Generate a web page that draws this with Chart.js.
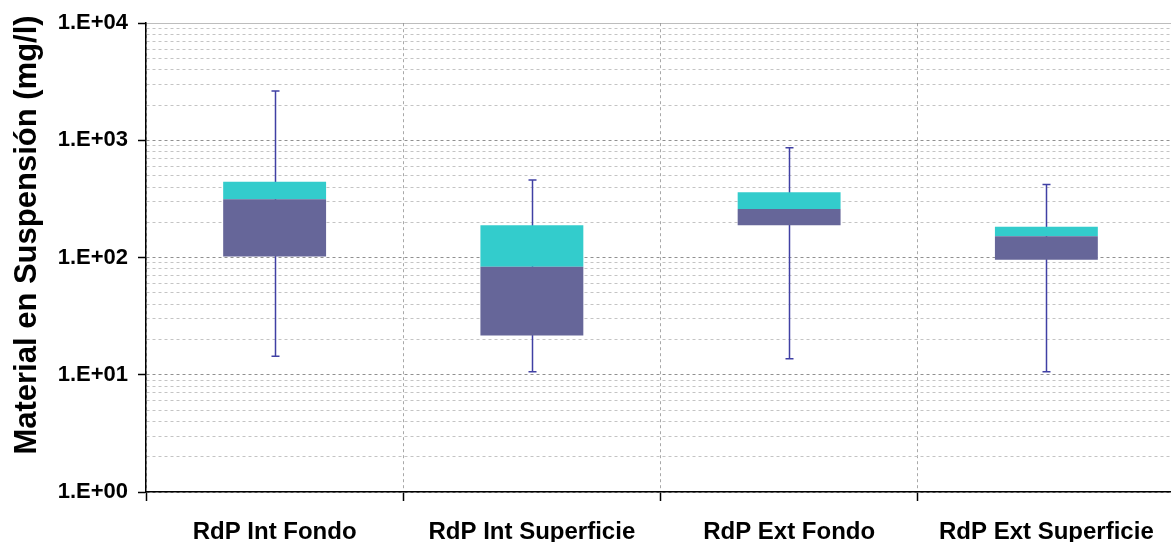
<!DOCTYPE html>
<html>
<head>
<meta charset="utf-8">
<script src="https://cdn.jsdelivr.net/npm/chart.js@4.4.1/dist/chart.umd.min.js"></script>
<style>
  html, body { margin: 0; padding: 0; background: #fff; overflow: hidden; }
  #wrap { position: absolute; left: 0; top: 0; width: 1176px; height: 542px; }
</style>
</head>
<body>
<div id="wrap"><canvas id="cv" width="1176" height="542"></canvas></div>
<script>
// data
var categories = ['RdP Int Fondo', 'RdP Int Superficie', 'RdP Ext Fondo', 'RdP Ext Superficie'];
var whiskerLow  = [14.4, 10.6, 13.7, 10.6];
var q1          = [102, 21.6, 189, 95.7];
var median      = [315, 83.5, 260, 152];
var q3          = [443, 189, 361, 183];
var whiskerHigh = [2636, 460, 867, 420];

var decades = [1, 10, 100, 1000, 10000];
var yTickLabels = ['1.E+00', '1.E+01', '1.E+02', '1.E+03', '1.E+04'];
var minorSteps = [2, 3, 4, 5, 6, 7, 8, 9];

var FONT = '"Liberation Sans", Arial, sans-serif';

function isDecade(v) {
  var l = Math.log10(v);
  return Math.abs(l - Math.round(l)) < 1e-9;
}

// gridline positions: every decade plus 2..9 inside it
var gridValues = [];
decades.forEach(function (d, i) {
  gridValues.push(d);
  if (i < decades.length - 1) {
    minorSteps.forEach(function (k) { gridValues.push(d * k); });
  }
});

var whiskers = {
  id: 'whiskers',
  beforeDatasetsDraw: function (chart) {
    var ctx = chart.ctx, xs = chart.scales.x, ys = chart.scales.y;
    ctx.save();
    ctx.strokeStyle = '#4040a4';
    ctx.lineWidth = 1.5;
    for (var i = 0; i < categories.length; i++) {
      var x = Math.round(xs.getPixelForValue(i)) + 0.5;
      var yh = ys.getPixelForValue(whiskerHigh[i]);
      var yl = ys.getPixelForValue(whiskerLow[i]);
      ctx.beginPath();
      ctx.moveTo(x, yh); ctx.lineTo(x, yl);
      ctx.moveTo(x - 4, yh); ctx.lineTo(x + 4, yh);
      ctx.moveTo(x - 4, yl); ctx.lineTo(x + 4, yl);
      ctx.stroke();
    }
    ctx.restore();
  }
};

var yTitle = {
  id: 'yTitle',
  afterDraw: function (chart) {
    var ctx = chart.ctx;
    ctx.save();
    ctx.translate(27, 235);
    ctx.rotate(-Math.PI / 2);
    ctx.font = 'bold 31px ' + FONT;
    ctx.fillStyle = '#000';
    ctx.textAlign = 'center';
    ctx.textBaseline = 'middle';
    ctx.fillText('Material en Suspensión (mg/l)', 0, 0);
    ctx.restore();
  }
};

var lowBox = categories.map(function (c, i) { return [q1[i], median[i]]; });
var highBox = categories.map(function (c, i) { return [median[i], q3[i]]; });

new Chart(document.getElementById('cv'), {
  type: 'bar',
  data: {
    labels: categories,
    datasets: [
      { label: 'q1-mediana', data: lowBox, backgroundColor: '#666699', grouped: false,
        barPercentage: 0.4, categoryPercentage: 1 },
      { label: 'mediana-q3', data: highBox, backgroundColor: '#33cccc', grouped: false,
        barPercentage: 0.4, categoryPercentage: 1 }
    ]
  },
  options: {
    responsive: false,
    animation: false,
    layout: { padding: { left: 0, top: 22, right: 1, bottom: 0 } },
    plugins: { legend: { display: false }, tooltip: { enabled: false } },
    scales: {
      x: {
        afterFit: function (s) { s.height = 50; },
        grid: { offset: true, color: '#a8a8a8', lineWidth: 1, tickLength: 9, tickColor: '#000', tickWidth: 1.5 },
        border: { color: '#000', width: 1.5, dash: [3, 3] },
        ticks: { color: '#000', padding: 17, font: { family: FONT, size: 24, weight: 'bold' } }
      },
      y: {
        type: 'logarithmic',
        min: 1,
        max: 10000,
        afterFit: function (s) { s.width = 146; },
        afterBuildTicks: function (s) {
          s.ticks = gridValues.map(function (v) { return { value: v }; });
        },
        grid: {
          color: function (c) {
            if (!c.tick) return '#c8c8c8';
            if (c.tick.value === 10000) return '#7a7a7a';
            return isDecade(c.tick.value) ? '#909090' : '#c4c4c4';
          },
          lineWidth: 1,
          tickLength: 8,
          tickWidth: 1.5,
          tickColor: function (c) {
            return c.tick && isDecade(c.tick.value) ? '#000' : 'rgba(0,0,0,0)';
          }
        },
        border: {
          color: '#000', width: 1.5,
          dash: function (c) {
            if (c.tick && c.tick.value === 10000) return [1, 1];
            return [3, 3];
          }
        },
        ticks: {
          autoSkip: false,
          color: '#000',
          padding: 10,
          font: { family: FONT, size: 22, weight: 'bold' },
          callback: function (v) {
            var i = decades.indexOf(v);
            return i >= 0 ? yTickLabels[i] : '';
          }
        }
      }
    }
  },
  plugins: [whiskers, yTitle]
});
</script>
</body>
</html>
